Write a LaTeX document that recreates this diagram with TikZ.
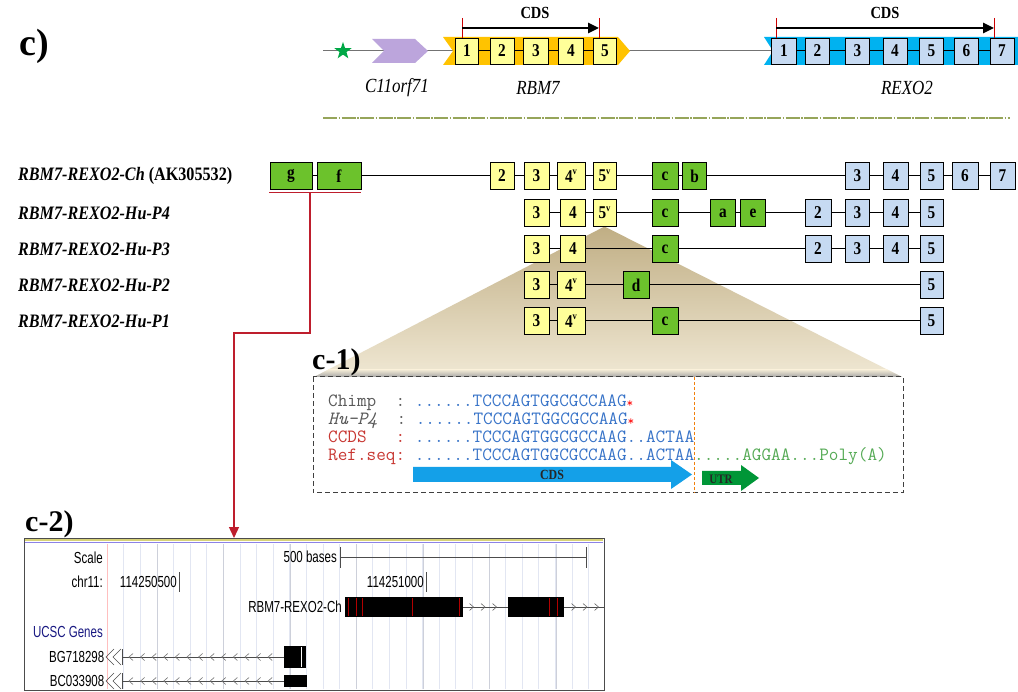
\documentclass[tikz,border=0pt]{standalone}
\usepackage{fontspec}
\setmainfont{Liberation Serif}[FakeStretch=0.85]
\newfontfamily\panelfont{Liberation Serif}
\newfontfamily\uifont{Liberation Sans}[FakeStretch=0.72]
\usetikzlibrary{arrows.meta,shapes.geometric}

\definecolor{exonY}{RGB}{255,255,153}
\definecolor{bandY}{RGB}{255,195,0}
\definecolor{exonB}{RGB}{198,218,242}
\definecolor{bandB}{RGB}{0,178,240}
\definecolor{exonG}{RGB}{108,194,44}
\definecolor{lilac}{RGB}{188,165,220}
\definecolor{starG}{RGB}{0,168,70}
\definecolor{oliveL}{RGB}{150,165,90}
\definecolor{seqBlue}{RGB}{55,115,200}
\definecolor{seqRed}{RGB}{200,55,50}
\definecolor{seqGreen}{RGB}{85,170,85}
\definecolor{cdsBlue}{RGB}{20,160,232}
\definecolor{utrGreen}{RGB}{0,150,55}
\definecolor{linkRed}{RGB}{190,30,45}
\definecolor{tanDark}{RGB}{192,174,132}
\definecolor{tanLight}{RGB}{240,232,212}
\definecolor{gridBlue}{RGB}{226,230,242}
\definecolor{gridDark}{RGB}{205,208,218}
\definecolor{ucscNavy}{RGB}{25,25,130}
\definecolor{bandTop}{RGB}{215,210,120}
\definecolor{bandViolet}{RGB}{140,130,230}

\newcommand\exv{\raisebox{0.42em}{\fontsize{10}{10}\selectfont v}}
\newcommand\stopmark{\textcolor{red}{\fontsize{13}{13}\selectfont\raisebox{-1.5pt}{*}}}

\tikzset{
  exon/.style={draw=black, line width=0.9pt, minimum height=27pt, inner sep=0pt,
    font=\bfseries\fontsize{18}{18}\selectfont},
  yex/.style={exon, fill=exonY, minimum width=#1},
  bex/.style={exon, fill=exonB, minimum width=#1},
  gex/.style={exon, fill=exonG, minimum width=#1},
  hdr/.style={minimum height=26pt},
  intron/.style={draw=black, line width=1pt},
  rowlabel/.style={anchor=west, inner sep=0pt, font=\bfseries\itshape\fontsize{19}{19}\selectfont},
  genename/.style={inner sep=0pt, font=\itshape\fontsize{20}{20}\selectfont},
  cdstext/.style={inner sep=0pt, font=\bfseries\fontsize{17}{17}\selectfont},
  panel/.style={anchor=base west, inner sep=0pt, font=\panelfont\bfseries\fontsize{30}{30}\selectfont},
  seqline/.style={anchor=base west, inner sep=0pt, font=\ttfamily\frenchspacing\fontsize{18.7}{18.7}\selectfont},
  ui/.style={inner sep=0pt, font=\uifont\fontsize{16}{16}\selectfont},
  redtick/.style={draw=red!80!black, line width=0.9pt},
}

\begin{document}
\begin{tikzpicture}[x=1pt,y=-1pt]
\useasboundingbox (0,0) rectangle (1018,692);
\fill[white] (0,0) rectangle (1018,692);

% ---------------- genomic locus ----------------
\node[panel, font=\panelfont\bfseries\fontsize{38}{38}\selectfont] (cpanel) at (19,56) {c)};

\coordinate (bbL) at (323,51);
\coordinate (bbR) at (1010,51);
\draw[black!55, line width=1pt] (bbL) -- (bbR);

\node[star, star points=5, star point ratio=2.5, fill=starG, minimum size=18pt, inner sep=0pt] (promoter) at (343,51) {};
\fill[lilac] (372,39) -- (415,39) -- (428,51) -- (415,63) -- (372,63) -- (384,51) -- cycle;
\fill[bandY] (443,37) -- (618,37) -- (630,51) -- (618,65) -- (443,65) -- (453,51) -- cycle;
\fill[bandB] (764,37) -- (1018,37) -- (1018,65) -- (764,65) -- (773,51) -- cycle;

% RBM7 exons
\node[yex=23, hdr] (r1) at (467,51) {1};
\node[yex=24, hdr] (r2) at (502,51) {2};
\node[yex=25, hdr] (r3) at (536,51) {3};
\node[yex=25, hdr] (r4) at (571,51) {4};
\node[yex=23, hdr] (r5) at (605,51) {5};
\foreach \a/\b in {r1/r2,r2/r3,r3/r4,r4/r5} \draw[intron] (\a) -- (\b);

% REXO2 exons
\node[bex=25, hdr] (x1) at (784,51) {1};
\node[bex=24, hdr] (x2) at (817.5,51) {2};
\node[bex=24, hdr] (x3) at (857.5,51) {3};
\node[bex=24, hdr] (x4) at (895,51) {4};
\node[bex=24, hdr] (x5) at (931.5,51) {5};
\node[bex=24, hdr] (x6) at (966.5,51) {6};
\node[bex=24, hdr] (x7) at (1002,51) {7};
\foreach \a/\b in {x1/x2,x2/x3,x3/x4,x4/x5,x5/x6,x6/x7} \draw[intron] (\a) -- (\b);

% coding regions
\coordinate (rcdsS) at (462,28);
\coordinate (rcdsE) at (599,28);
\coordinate (xcdsS) at (776,28);
\coordinate (xcdsE) at (994,28);
\draw[redtick] (462,18) -- (462,38);
\draw[redtick] (599,18) -- (599,38);
\draw[redtick] (776,18) -- (776,38);
\draw[redtick] (994,18) -- (994,38);
\draw[line width=2.6pt, -{Triangle[length=11pt,width=10pt]}] (rcdsS) -- (rcdsE);
\draw[line width=2.6pt, -{Triangle[length=11pt,width=10pt]}] (xcdsS) -- (xcdsE);
\node[cdstext] (rcds) at (535,13) {CDS};
\node[cdstext] (xcds) at (885,13) {CDS};

\node[genename] (gC11) at (397,88) {C11orf71};
\node[genename] (gRBM) at (538,88) {RBM7};
\node[genename] (gREX) at (907,88) {REXO2};

\coordinate (sepL) at (323,118);
\coordinate (sepR) at (1010,118);
\draw[oliveL, line width=1.2pt, dash pattern=on 14pt off 1.5pt on 1.5pt off 1.5pt] (sepL) -- (sepR);

% ---------------- zoom fan behind the transcripts ----------------
\coordinate (fanTop) at (604.5,226.5);
\coordinate (fanR) at (902,377);
\coordinate (fanL) at (314,377);
\shade[top color=tanDark, bottom color=tanLight] (fanTop) -- (fanR) -- (fanL) -- cycle;
\begin{scope}
  \clip (fanTop) -- (fanR) -- (fanL) -- cycle;
  \shade[top color=tanLight, bottom color=black!35] (300,370) rectangle (910,377);
\end{scope}

% ---------------- transcripts ----------------
\node[rowlabel] (lCh) at (18,176) {RBM7-REXO2-Ch \textup{(AK305532)}};
\node[rowlabel] (lP4) at (18,213) {RBM7-REXO2-Hu-P4};
\node[rowlabel] (lP3) at (18,249) {RBM7-REXO2-Hu-P3};
\node[rowlabel] (lP2) at (18,285) {RBM7-REXO2-Hu-P2};
\node[rowlabel] (lP1) at (18,321) {RBM7-REXO2-Hu-P1};

% chimeric transcript
\node[gex=42] (chG) at (291,176) {g};
\node[gex=44] (chF) at (339,176) {f};
\node[yex=24] (ch2) at (502,176) {2};
\node[yex=25] (ch3) at (536.5,176) {3};
\node[yex=28] (ch4) at (571,176) {4\exv};
\node[yex=23] (ch5) at (604.5,176) {5\exv};
\node[gex=26] (chC) at (665,176) {c};
\node[gex=24] (chB) at (694.5,176) {b};
\node[bex=24] (chX3) at (857.5,176) {3};
\node[bex=25] (chX4) at (895.5,176) {4};
\node[bex=23] (chX5) at (931.5,176) {5};
\node[bex=26] (chX6) at (965,176) {6};
\node[bex=25] (chX7) at (1002.5,176) {7};
\foreach \a/\b in {chG/chF,chF/ch2,ch2/ch3,ch3/ch4,ch4/ch5,ch5/chC,chC/chB,chB/chX3,chX3/chX4,chX4/chX5,chX5/chX6,chX6/chX7}
  \draw[intron] (\a) -- (\b);

% Hu-P4
\node[yex=25] (p4y3) at (536.5,213) {3};
\node[yex=25] (p4y4) at (573,213) {4};
\node[yex=23] (p4y5) at (604.5,213) {5\exv};
\node[gex=26] (p4C) at (665,213) {c};
\node[gex=25] (p4A) at (723,213) {a};
\node[gex=25] (p4E) at (753,213) {e};
\node[bex=26] (p4X2) at (818,213) {2};
\node[bex=24] (p4X3) at (857.5,213) {3};
\node[bex=25] (p4X4) at (895.5,213) {4};
\node[bex=23] (p4X5) at (931.5,213) {5};
\foreach \a/\b in {p4y3/p4y4,p4y4/p4y5,p4y5/p4C,p4C/p4A,p4A/p4E,p4E/p4X2,p4X2/p4X3,p4X3/p4X4,p4X4/p4X5}
  \draw[intron] (\a) -- (\b);

% Hu-P3
\node[yex=25] (p3y3) at (536.5,249) {3};
\node[yex=25] (p3y4) at (573,249) {4};
\node[gex=26] (p3C) at (665,249) {c};
\node[bex=26] (p3X2) at (818,249) {2};
\node[bex=24] (p3X3) at (857.5,249) {3};
\node[bex=25] (p3X4) at (895.5,249) {4};
\node[bex=23] (p3X5) at (931.5,249) {5};
\foreach \a/\b in {p3y3/p3y4,p3y4/p3C,p3C/p3X2,p3X2/p3X3,p3X3/p3X4,p3X4/p3X5}
  \draw[intron] (\a) -- (\b);

% Hu-P2
\node[yex=25] (p2y3) at (536.5,285) {3};
\node[yex=28] (p2y4) at (571,285) {4\exv};
\node[gex=26] (p2D) at (636,285) {d};
\node[bex=23] (p2X5) at (931.5,285) {5};
\foreach \a/\b in {p2y3/p2y4,p2y4/p2D,p2D/p2X5}
  \draw[intron] (\a) -- (\b);

% Hu-P1
\node[yex=25] (p1y3) at (536.5,321) {3};
\node[yex=28] (p1y4) at (571,321) {4\exv};
\node[gex=26] (p1C) at (665,321) {c};
\node[bex=23] (p1X5) at (931.5,321) {5};
\foreach \a/\b in {p1y3/p1y4,p1y4/p1C,p1C/p1X5}
  \draw[intron] (\a) -- (\b);

% ---------------- link from exons g/f to the browser view ----------------
\coordinate (ulL) at (269,192.5);
\coordinate (ulR) at (361,192.5);
\draw[linkRed, line width=1.2pt] (ulL) -- (ulR);
\coordinate (linkS) at (310,192.5);
\coordinate (linkA) at (310,333);
\coordinate (linkB) at (234,333);
\coordinate (linkE) at (234,538);
\draw[linkRed, line width=1.4pt, -{Triangle[length=11pt,width=10pt]}] (linkS) -- (linkA) -- (linkB) -- (linkE);

% ---------------- c-1: sequence alignment ----------------
\node[panel] (c1lbl) at (312,370) {c-1)};
\draw[black!75, line width=1pt, dash pattern=on 5pt off 3pt] (313,377) rectangle (903,493);
\coordinate (cutT) at (694,377);
\coordinate (cutB) at (694,493);
\draw[orange!80!brown, line width=0.8pt, dash pattern=on 3pt off 2pt] (cutT) -- (cutB);

\node[seqline] (sChimp) at (328,406.5)
  {\textcolor{black!65}{Chimp~~:}~\textcolor{seqBlue}{......TCCCAGTGGCGCCAAG}\stopmark};
\node[seqline] (sHu) at (328,424.5)
  {\textcolor{black!65}{{\itshape Hu-P4}~~:}~\textcolor{seqBlue}{......TCCCAGTGGCGCCAAG}\stopmark};
\node[seqline] (sCCDS) at (328,442.5)
  {\textcolor{seqRed}{CCDS~~~:}~\textcolor{seqBlue}{......TCCCAGTGGCGCCAAG..ACTAA}};
\node[seqline] (sRef) at (328,460.5)
  {\textcolor{seqRed}{Ref.seq:}~\textcolor{seqBlue}{......TCCCAGTGGCGCCAAG..ACTAA}\textcolor{seqGreen}{.....AGGAA...Poly(A)}};

\fill[cdsBlue] (413,467) -- (671,467) -- (671,460) -- (692,474.5) -- (671,489) -- (671,482) -- (413,482) -- cycle;
\node[inner sep=0pt, font=\bfseries\fontsize{14}{14}\selectfont, text=black!85] (cdsLbl) at (552,475) {CDS};
\fill[utrGreen] (702,471) -- (741,471) -- (741,465) -- (759,478) -- (741,491) -- (741,485) -- (702,485) -- cycle;
\node[inner sep=0pt, font=\bfseries\fontsize{13}{13}\selectfont, text=black!85] (utrLbl) at (721,479) {UTR};

% ---------------- c-2: genome browser view ----------------
\node[panel] (c2lbl) at (25,531) {c-2)};
\foreach \gx in {107,123.6,...,600} \draw[gridBlue, line width=0.6pt] (\gx,544) -- (\gx,689);
\foreach \gx in {157,223.5,290,356.5,423,489.5,556} \draw[gridDark, line width=0.6pt] (\gx,544) -- (\gx,689);
\draw[red!25, line width=0.8pt] (107,544) -- (107,689);
\draw[black!70, line width=1pt] (24,538) rectangle (604,690);
\draw[bandTop, line width=1.5pt] (25,539.8) -- (603,539.8);
\draw[bandViolet, line width=1pt] (25,542.5) -- (603,542.5);

\node[ui, anchor=east] (uScale) at (103,558) {Scale};
\node[ui, anchor=east] (uBases) at (337,557) {500 bases};
\coordinate (sbL) at (340,557);
\coordinate (sbR) at (586,557);
\draw[black!70, line width=0.8pt] (sbL) -- (sbR);
\draw[black!70, line width=0.8pt] (340,547) -- (340,568);
\draw[black!70, line width=0.8pt] (586,547) -- (586,568);

\node[ui, anchor=east] (uChr) at (103,582) {chr11:};
\node[ui, anchor=east] (uPos1) at (177,582) {114250500};
\draw[black!70, line width=0.8pt] (179,572) -- (179,592);
\node[ui, anchor=east] (uPos2) at (424,582) {114251000};
\draw[black!70, line width=0.8pt] (426,572) -- (426,592);

\node[ui, anchor=east] (uTrack) at (342,607) {RBM7-REXO2-Ch};
\fill (345,597) rectangle (463,617);
\fill (508,597) rectangle (564,617);
\foreach \rx in {348,356.5,362,412,459,549,557}
  \draw[red!70!black, line width=0.9pt] (\rx,598) -- (\rx,616);
\draw[black!70, line width=0.8pt] (463,607) -- (508,607);
\draw[black!70, line width=0.8pt] (564,607) -- (604,607);
\foreach \cx in {472,483.5,495}
  \draw[black!60, line width=0.6pt] (\cx-2.5,603.5) -- (\cx+1.5,607) -- (\cx-2.5,610.5);
\foreach \cx in {574,585.5,597}
  \draw[black!60, line width=0.6pt] (\cx-2.5,603.5) -- (\cx+1.5,607) -- (\cx-2.5,610.5);

\node[ui, anchor=east, text=ucscNavy] (uGenes) at (103,632) {UCSC Genes};

\node[ui, anchor=east] (uBG) at (104.5,657) {BG718298};
\node[ui, anchor=east] (uBC) at (104.5,681) {BC033908};
\foreach \ty in {657,681} {
  \draw[black!70, line width=0.7pt] (114,\ty-8) -- (106,\ty) -- (114,\ty+8);
  \draw[black!70, line width=0.7pt] (121,\ty-8) -- (113,\ty) -- (121,\ty+8);
  \draw[black!70, line width=0.7pt] (122,\ty-8) -- (122,\ty+8);
  \draw[black!70, line width=0.8pt] (122,\ty) -- (284,\ty);
  \foreach \cx in {131,142.6,...,280}
    \draw[black!55, line width=0.6pt] (\cx+2,\ty-3.5) -- (\cx-2,\ty) -- (\cx+2,\ty+3.5);
}
\fill (284,646) rectangle (306,668);
\draw[white, line width=0.7pt] (301.5,647) -- (301.5,667);
\fill (284,675) rectangle (307,687);

\end{tikzpicture}
\end{document}
